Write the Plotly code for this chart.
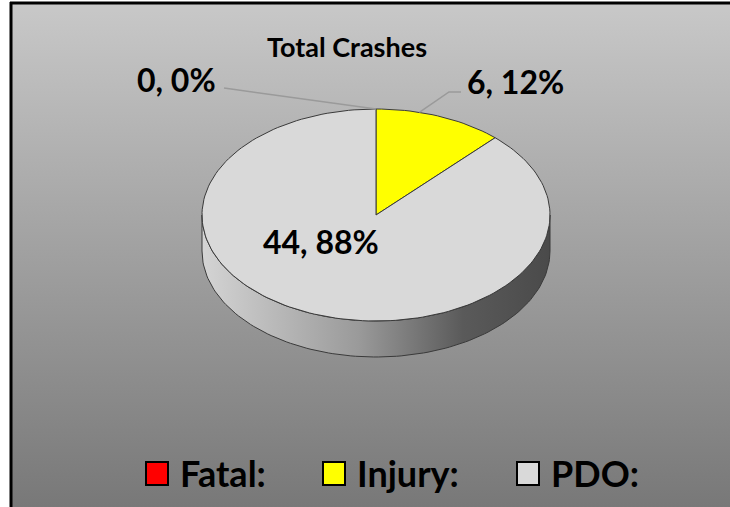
import numpy as np
import plotly.graph_objects as go

# ---- data ----
categories = ["Fatal:", "Injury:", "PDO:"]
values = [0, 6, 44]
colors = ["#ff0000", "#ffff00", "#d9d9d9"]
chart_title = "Total Crashes"

# ---- layout geometry (pixel-like units) ----
W, H = 730, 507
cx, cy, rx, ry, depth = 376, 215, 174, 106, 36
FONT = "Lato, 'Open Sans', sans-serif"

total = sum(values)
fracs = [v / total for v in values]


def ell(t, dy=0.0):
    a = 2 * np.pi * np.asarray(t)
    return cx + rx * np.sin(a), cy - ry * np.cos(a) + dy


fig = go.Figure()

# background panel with vertical gradient
fig.add_trace(go.Scatter(
    x=[12, 740, 740, 12, 12], y=[4, 4, 515, 515, 4], mode="lines",
    line=dict(width=0), fill="toself",
    fillgradient=dict(type="vertical", start=4, stop=507,
                      colorscale=[[0, "#c8c8c8"], [1, "#787878"]]),
    hoverinfo="skip", showlegend=False))

# side of the 3D pie (front half)
ts = np.linspace(0.25, 0.75, 120)
xt, yt = ell(ts)
xb, yb = ell(ts[::-1], depth)
fig.add_trace(go.Scatter(
    x=np.concatenate([xt, xb, xt[:1]]), y=np.concatenate([yt, yb, yt[:1]]),
    mode="lines", line=dict(color="#3a3a3a", width=1), fill="toself",
    fillgradient=dict(type="horizontal", start=cx - rx, stop=cx + rx,
                      colorscale=[[0, "#d4d4d4"], [0.45, "#9a9a9a"], [0.75, "#5a5a5a"], [1, "#4a4a4a"]]),
    hoverinfo="skip", showlegend=False))

# top face wedges
start = 0.0
for name, v, f, c in zip(categories, values, fracs, colors):
    if v > 0:
        t = np.linspace(start, start + f, max(8, int(200 * f)))
        x, y = ell(t)
        fig.add_trace(go.Scatter(
            x=np.concatenate([[cx], x, [cx]]), y=np.concatenate([[cy], y, [cy]]),
            mode="lines", line=dict(color="#3a3a3a", width=1), fill="toself",
            fillcolor=c, name=name, hoverinfo="skip", showlegend=False))
    start += f

fig.update_xaxes(range=[0, W], visible=False, fixedrange=True)
fig.update_yaxes(range=[H, 0], visible=False, fixedrange=True)

shapes = [
    # frame border (left and top)
    dict(type="line", x0=11, x1=11, y0=2, y1=H + 5, line=dict(color="black", width=3)),
    dict(type="line", x0=10, x1=W + 5, y0=3, y1=3, line=dict(color="black", width=3)),
]

# leader lines
x0p, y0p = ell(0.0)
shapes.append(dict(type="line", x0=224, y0=88, x1=float(x0p), y1=float(y0p),
                   line=dict(color="#9a9a9a", width=1.5)))
xi, yi = ell(fracs[0] + fracs[1] * 0.5 - 0.02)
shapes.append(dict(type="path",
                   path=f"M 461 92 L 449 92 L {float(xi):.1f} {float(yi):.1f}",
                   line=dict(color="#9a9a9a", width=1.5)))

annotations = [
    dict(x=347, y=46, text=f"<b>{chart_title}</b>", showarrow=False,
         font=dict(family=FONT, size=27, color="black")),
]
label_pos = [(176, 79), (515, 81), (321, 241)]
for (lx, ly), v, f in zip(label_pos, values, fracs):
    annotations.append(dict(x=lx, y=ly, text=f"<b>{v}, {round(f * 100)}%</b>",
                            showarrow=False,
                            font=dict(family=FONT, size=32, color="black")))

# legend (boxes + text)
legend_box_x = [146, 323, 517]
for bx, name, c in zip(legend_box_x, categories, colors):
    shapes.append(dict(type="rect", x0=bx, x1=bx + 22, y0=462, y1=485,
                       fillcolor=c, line=dict(color="black", width=2)))
    annotations.append(dict(x=bx + 32, y=473, text=f"<b>{name}</b>", showarrow=False,
                            xanchor="left", yanchor="middle",
                            font=dict(family=FONT, size=36, color="black")))

fig.update_layout(
    width=W, height=H, margin=dict(l=0, r=0, t=0, b=0),
    paper_bgcolor="white", plot_bgcolor="white",
    shapes=shapes, annotations=annotations, showlegend=False,
)

fig.write_html("out.html", config={"displayModeBar": False},
               post_script="document.body.style.margin='0';document.body.style.overflow='hidden';")
